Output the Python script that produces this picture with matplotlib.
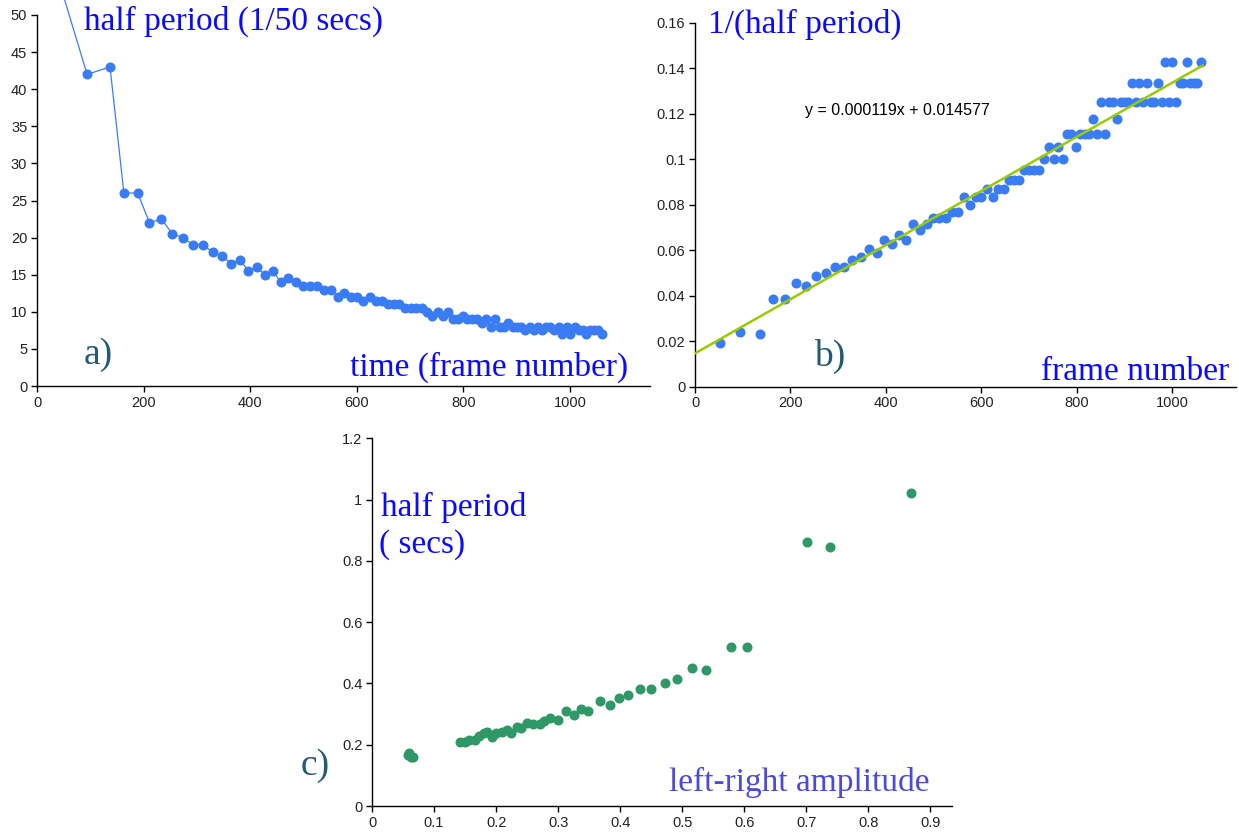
import matplotlib
matplotlib.use("Agg")
import matplotlib.pyplot as plt
import numpy as np

# ---------------- data ----------------
frames = [52, 94, 137, 163, 189, 211, 233.5, 254, 274, 293, 312, 330, 347.5, 364, 381,
          396.5, 412.5, 427.5, 443, 457, 471.5, 485.5, 499, 512.5, 526, 539, 552, 564,
          576.5, 588.5, 600.5, 612, 624, 635.5, 647, 658, 669, 680, 690.5, 701, 711.5,
          722, 732, 741.5, 751.5, 761, 771, 780, 789, 798.5, 807.5, 816.5, 825.5, 834,
          843, 851, 860, 868, 876, 884.5, 892.5, 900.5, 908.5, 916, 924, 931.5, 939.5,
          947, 955, 963, 970.5, 978.5, 985.5, 993.5, 1000.5, 1008.5, 1016, 1023.5,
          1030.5, 1038, 1045.5, 1053, 1060]

half_period = [52, 42, 43, 26, 26, 22, 22.5, 20.5, 20, 19, 19, 18, 17.5, 16.5, 17, 15.5,
               16, 15, 15.5, 14, 14.5, 14, 13.5, 13.5, 13.5, 13, 13, 12, 12.5, 12, 12,
               11.5, 12, 11.5, 11.5, 11, 11, 11, 10.5, 10.5, 10.5, 10.5, 10, 9.5, 10,
               9.5, 10, 9, 9, 9.5, 9, 9, 9, 8.5, 9, 8, 9, 8, 8, 8.5, 8, 8, 8, 7.5, 8,
               7.5, 8, 7.5, 8, 8, 7.5, 8, 7, 8, 7, 8, 7.5, 7.5, 7, 7.5, 7.5, 7.5, 7]

inv_half_period = [0.0192, 0.0238, 0.0233, 0.0385, 0.0385, 0.0455, 0.0444, 0.0488, 0.0500,
                   0.0526, 0.0526, 0.0556, 0.0571, 0.0606, 0.0588, 0.0645, 0.0625, 0.0667,
                   0.0645, 0.0714, 0.0690, 0.0714, 0.0741, 0.0741, 0.0741, 0.0769, 0.0769,
                   0.0833, 0.0800, 0.0833, 0.0833, 0.0870, 0.0833, 0.0870, 0.0870, 0.0909,
                   0.0909, 0.0909, 0.0952, 0.0952, 0.0952, 0.0952, 0.1000, 0.1053, 0.1000,
                   0.1053, 0.1000, 0.1111, 0.1111, 0.1053, 0.1111, 0.1111, 0.1111, 0.1176,
                   0.1111, 0.1250, 0.1111, 0.1250, 0.1250, 0.1176, 0.1250, 0.1250, 0.1250,
                   0.1333, 0.1250, 0.1333, 0.1250, 0.1333, 0.1250, 0.1250, 0.1333, 0.1250,
                   0.1429, 0.1250, 0.1429, 0.1250, 0.1333, 0.1333, 0.1429, 0.1333, 0.1333,
                   0.1333, 0.1429]

trend_slope = 0.000119
trend_intercept = 0.014577
trend_range = [0, 1064]

amplitude = [0.058, 0.060, 0.063, 0.066, 0.142, 0.150, 0.157, 0.166, 0.173, 0.181, 0.186,
             0.193, 0.200, 0.209, 0.217, 0.224, 0.233, 0.241, 0.250, 0.259, 0.271, 0.277,
             0.287, 0.300, 0.313, 0.325, 0.337, 0.349, 0.368, 0.384, 0.398, 0.413, 0.432,
             0.449, 0.472, 0.491, 0.516, 0.538, 0.579, 0.604, 0.702, 0.739, 0.869]
period_secs = [0.165, 0.172, 0.160, 0.160, 0.210, 0.210, 0.217, 0.217, 0.228, 0.237, 0.242,
               0.226, 0.239, 0.242, 0.248, 0.237, 0.259, 0.253, 0.270, 0.267, 0.267, 0.278,
               0.286, 0.280, 0.311, 0.297, 0.318, 0.311, 0.343, 0.331, 0.351, 0.362, 0.383,
               0.383, 0.402, 0.414, 0.449, 0.443, 0.519, 0.519, 0.861, 0.845, 1.020]

a_yticks = [0, 5, 10, 15, 20, 25, 30, 35, 40, 45, 50]
b_yticks = [0, 0.02, 0.04, 0.06, 0.08, 0.1, 0.12, 0.14, 0.16]
b_yticklabels = ["0", "0.02", "0.04", "0.06", "0.08", "0.1", "0.12", "0.14", "0.16"]
ab_xticks = [0, 200, 400, 600, 800, 1000]
c_xticks = [0, 0.1, 0.2, 0.3, 0.4, 0.5, 0.6, 0.7, 0.8, 0.9]
c_xticklabels = ["0", "0.1", "0.2", "0.3", "0.4", "0.5", "0.6", "0.7", "0.8", "0.9"]
c_yticks = [0, 0.2, 0.4, 0.6, 0.8, 1.0, 1.2]
c_yticklabels = ["0", "0.2", "0.4", "0.6", "0.8", "1", "1.2"]

# ---------------- style ----------------
W, H = 1239, 836
BLUE_PT = "#3a7cf6"
GREEN_PT = "#2e9966"
TREND = "#99cc00"
LABEL_BLUE = "#0a0aff"
TEAL = "#235a78"
SERIF = ["Liberation Serif", "DejaVu Serif"]
SANS = ["Liberation Sans", "DejaVu Sans"]

fig = plt.figure(figsize=(W / 100, H / 100), dpi=100)
fig.patch.set_facecolor("white")


def px_axes(left, top, right, bottom):
    return fig.add_axes([left / W, 1 - bottom / H, (right - left) / W, (bottom - top) / H])


def style(ax):
    for s in ("top", "right"):
        ax.spines[s].set_visible(False)
    for s in ("left", "bottom"):
        ax.spines[s].set_color("black")
        ax.spines[s].set_linewidth(1.0)
    ax.tick_params(direction="out", length=4, width=1, colors="black",
                   labelsize=10.5, pad=3)
    for lab in ax.get_xticklabels() + ax.get_yticklabels():
        lab.set_family(SANS)
        lab.set_color("#222222")
    ax.set_facecolor("none")


def ftext(x, y, s, **kw):
    fig.text(x / W, 1 - y / H, s, **kw)


# ---- panel a ----
ax_a = px_axes(37, 15, 650, 386)
ax_a.set_xlim(0, 1150)
ax_a.set_ylim(0, 50)
ax_a.plot(frames, half_period, color=BLUE_PT, lw=0.9, clip_on=False, zorder=2)
ax_a.plot(frames, half_period, ls="none", marker="o", ms=6.2, color=BLUE_PT,
          mec=BLUE_PT, zorder=3)
ax_a.set_xticks(ab_xticks)
ax_a.set_yticks(a_yticks)
style(ax_a)

# ---- panel b ----
ax_b = px_axes(695, 22.7, 1236, 386.5)
ax_b.set_xlim(0, 1134)
ax_b.set_ylim(0, 0.16)
tx = np.array(trend_range, dtype=float)
ax_b.plot(tx, trend_slope * tx + trend_intercept, color=TREND, lw=1.8, zorder=4)
ax_b.plot(frames, inv_half_period, ls="none", marker="o", ms=6.2, color=BLUE_PT,
          mec=BLUE_PT, zorder=3)
ax_b.set_xticks(ab_xticks)
ax_b.set_yticks(b_yticks)
ax_b.set_yticklabels(b_yticklabels)
style(ax_b)

# ---- panel c ----
ax_c = px_axes(372, 438.3, 952, 806)
ax_c.set_xlim(0, 0.935)
ax_c.set_ylim(0, 1.2)
ax_c.plot(amplitude, period_secs, ls="none", marker="o", ms=6.2, color=GREEN_PT,
          mec=GREEN_PT, zorder=3)
ax_c.set_xticks(c_xticks)
ax_c.set_xticklabels(c_xticklabels)
ax_c.set_yticks(c_yticks)
ax_c.set_yticklabels(c_yticklabels)
style(ax_c)

# ---- annotations ----
big = 24
ftext(84, 21, "half period (1/50 secs)", family=SERIF, size=big, color=LABEL_BLUE,
      va="center", ha="left")
ftext(628, 367, "time (frame number)", family=SERIF, size=big, color=LABEL_BLUE,
      va="center", ha="right")
ftext(84, 355, "a)", family=SERIF, size=big + 3, color=TEAL, va="center", ha="left")

ftext(708, 24, "1/(half period)", family=SERIF, size=big, color=LABEL_BLUE,
      va="center", ha="left")
ftext(1229, 372, "frame number", family=SERIF, size=big, color=LABEL_BLUE,
      va="center", ha="right")
ftext(814, 356, "b)", family=SERIF, size=big + 3, color=TEAL, va="center", ha="left")
ftext(805, 110, "y = 0.000119x + 0.014577", family=SANS, size=11.5, color="black",
      va="center", ha="left")

ftext(381, 507, "half period", family=SERIF, size=big, color=LABEL_BLUE,
      va="center", ha="left")
ftext(379, 545, "( secs)", family=SERIF, size=big, color=LABEL_BLUE,
      va="center", ha="left")
ftext(301, 766, "c)", family=SERIF, size=big + 3, color=TEAL, va="center", ha="left")
ftext(930, 782, "left-right amplitude", family=SERIF, size=big, color="#4a4ae0",
      va="center", ha="right")

fig.savefig("out.png", dpi=100)
